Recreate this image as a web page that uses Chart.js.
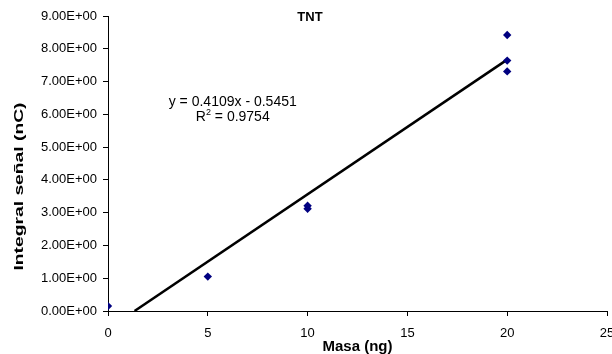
<!DOCTYPE html>
<html>
<head>
<meta charset="utf-8">
<script src="https://cdn.jsdelivr.net/npm/chart.js@4/dist/chart.umd.min.js"></script>
<style>
  html, body { margin: 0; padding: 0; background: #fff; }
  #wrap { width: 612px; height: 354px; }
</style>
</head>
<body>
<div id="wrap"><canvas id="myChart"></canvas></div>
<script>
  'use strict'

  // Measured samples (mass in ng, integrated signal in nC)
  const masa = [0, 5, 10, 10, 20, 20, 20]
  const senal = [0.15, 1.05, 3.21, 3.12, 8.42, 7.64, 7.31]

  // Excel linear trendline, drawn from the x-axis crossing to the last x
  const trendX = [1.33, 20]
  const trendY = [0, 7.67]

  const yTicks = [0, 1, 2, 3, 4, 5, 6, 7, 8, 9]
  const xTicks = [0, 5, 10, 15, 20, 25]

  const titulo = 'TNT'
  const tituloY = 'Integral señal (nC)'
  const tituloX = 'Masa (ng)'
  const ecuacion = 'y = 0.4109x - 0.5451'
  const r2 = '0.9754'

  const sci = (v) => {
    if (v === 0) return '0.00E+00'
    const e = Math.floor(Math.log10(Math.abs(v)))
    const m = (v / Math.pow(10, e)).toFixed(2)
    const s = e < 0 ? '-' : '+'
    return m + 'E' + s + String(Math.abs(e)).padStart(2, '0')
  }

  const FONT = 'Liberation Sans, Arial, sans-serif'

  const labels = {
    id: 'labels',
    afterDatasetsDraw(chart) {
      const { ctx, scales, chartArea } = chart
      ctx.save()
      ctx.fillStyle = '#000'
      ctx.textBaseline = 'middle'
      ctx.textAlign = 'center'
      ctx.font = 'bold 13px ' + FONT
      ctx.fillText(titulo, 310, 17)

      // y axis title, stretched along its length like the original
      ctx.save()
      ctx.translate(19, (chartArea.top + chartArea.bottom) / 2 + 23)
      ctx.rotate(-Math.PI / 2)
      ctx.font = 'bold 13px ' + FONT
      const tw = ctx.measureText(tituloY).width
      ctx.scale(168 / tw, 1)
      ctx.fillText(tituloY, 0, 0)
      ctx.restore()

      // trendline equation
      const cx = scales.x.getPixelForValue(6.25)
      const cy = scales.y.getPixelForValue(6.36)
      ctx.font = '14px ' + FONT
      ctx.fillText(ecuacion, cx, cy)
      const a = 'R', b = ' = ' + r2
      const w1 = ctx.measureText(a).width
      const w3 = ctx.measureText(b).width
      ctx.font = '9px ' + FONT
      const w2 = ctx.measureText('2').width
      const x0 = cx - (w1 + w2 + w3) / 2
      const y2 = cy + 14.5
      ctx.textAlign = 'left'
      ctx.font = '14px ' + FONT
      ctx.fillText(a, x0, y2)
      ctx.fillText(b, x0 + w1 + w2, y2)
      ctx.font = '9px ' + FONT
      ctx.fillText('2', x0 + w1, y2 - 5)
      ctx.restore()
    }
  }

  const ctx = document.getElementById('myChart')
  new Chart(ctx, {
    type: 'scatter',
    data: {
      datasets: [{
        label: titulo,
        data: masa.map((x, i) => ({ x, y: senal[i] })),
        pointStyle: 'rectRot',
        pointRadius: 4.2,
        pointHoverRadius: 4.2,
        backgroundColor: '#000080',
        borderColor: '#000080',
        borderWidth: 0,
        order: 1
      }, {
        label: 'Lineal',
        type: 'line',
        data: trendX.map((x, i) => ({ x, y: trendY[i] })),
        borderColor: '#000',
        borderWidth: 2.5,
        pointRadius: 0,
        fill: false,
        order: 2
      }]
    },
    options: {
      responsive: true,
      maintainAspectRatio: false,
      animation: false,
      layout: { padding: { top: 16, right: 5, bottom: 0, left: 0 } },
      plugins: {
        legend: { display: false },
        tooltip: { enabled: false }
      },
      scales: {
        x: {
          type: 'linear',
          min: 0,
          max: 25,
          afterBuildTicks: (s) => { s.ticks = xTicks.map(v => ({ value: v })) },
          afterFit: (s) => { s.paddingRight = 0; s.paddingLeft = 0; s.height = 43 },
          grid: { drawOnChartArea: false, drawTicks: true, tickLength: 5, color: '#000' },
          border: { color: '#000', width: 1 },
          ticks: { color: '#000', font: { family: FONT, size: 13 }, padding: 10, maxRotation: 0 },
          title: {
            display: true,
            text: tituloX,
            color: '#000',
            font: { family: FONT, size: 15, weight: 'bold', lineHeight: 1 },
            padding: { top: 0, bottom: 0 }
          }
        },
        y: {
          type: 'linear',
          min: 0,
          max: 9,
          afterBuildTicks: (s) => { s.ticks = yTicks.map(v => ({ value: v })) },
          afterFit: (s) => { s.width = 108; s.paddingTop = 0; s.paddingBottom = 0 },
          grid: { drawOnChartArea: false, drawTicks: true, tickLength: 5, color: '#000' },
          border: { color: '#000', width: 1 },
          ticks: { color: '#000', font: { family: FONT, size: 13 }, padding: 6, callback: sci },
          title: { display: false }
        }
      }
    },
    plugins: [labels]
  })
</script>
</body>
</html>
